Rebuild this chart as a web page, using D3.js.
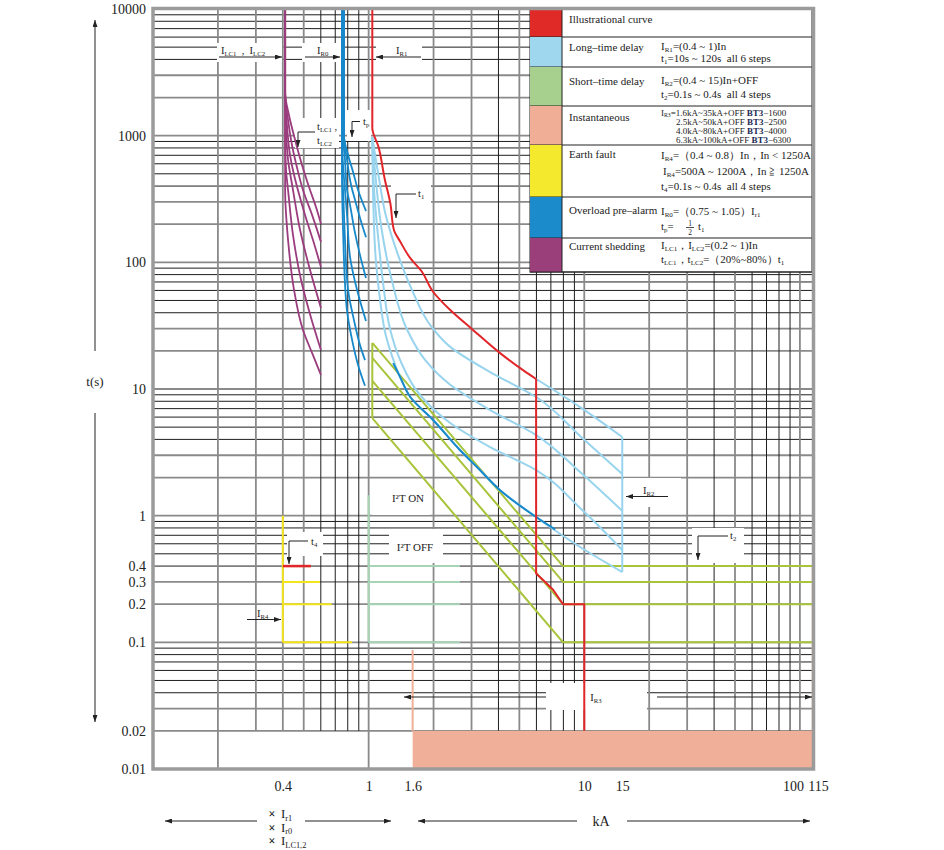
<!DOCTYPE html>
<html>
<head>
<meta charset="utf-8">
<script src="https://cdn.jsdelivr.net/npm/d3@7"></script>
<style>
  body { margin: 0; background: #fff; }
  text { font-family: "Liberation Serif", "DejaVu Serif", serif; fill: #222; }
</style>
</head>
<body>
<svg id="chart" width="944" height="850"></svg>
<script>
// ---- data (current in kA, time in s) ----
const yTicks = [0.01, 0.02, 0.1, 0.2, 0.3, 0.4, 1, 10, 100, 1000, 10000];
const yTickLabels = ["0.01", "0.02", "0.1", "0.2", "0.3", "0.4", "1", "10", "100", "1000", "10000"];
const xTicks = [0.4, 1, 1.6, 10, 15, 100, 115];
const xTickLabels = ["0.4", "1", "1.6", "10", "15", "100", "115"];

// illustrational curve (red)
const redCurve = [[1.04, 10000], [1.04, 1150], [1.11, 820], [1.19, 447], [1.26, 294], [1.31, 180], [1.40, 146],
  [1.56, 108], [1.76, 85], [1.99, 58.6], [2.39, 42], [3.01, 29.8], [4.07, 19.2], [5.2, 14.1], [5.98, 12.0],
  [5.98, 0.35], [6.44, 0.31], [7.17, 0.26], [7.97, 0.2], [10, 0.2], [10, 0.02]];
const redEarth = [[0.4, 0.4], [0.54, 0.4]];

// long-time delay (light blue)
const longTime = [
  [[5.98, 12.0], [9.56, 7.2], [15, 4.18]],
  [[1.04, 975], [1.11, 489], [1.20, 236], [1.37, 114], [1.59, 60.4], [1.93, 32.0], [2.39, 21.5], [3.66, 13.6], [5.98, 8.65], [9.56, 4.26], [15, 2.13]],
  [[1.04, 975], [1.08, 447], [1.15, 180], [1.28, 72.5], [1.51, 29.2], [1.83, 16.9], [2.39, 10.8], [3.66, 6.82], [5.98, 4.33], [9.56, 2.21], [15, 1.09]],
  [[1.04, 975], [1.06, 372], [1.11, 150], [1.17, 66.2], [1.26, 29.2], [1.40, 16.9], [1.73, 8.97], [2.39, 5.39], [3.66, 3.48], [5.98, 2.29], [9.56, 1.15], [15, 0.536]],
  [[1.04, 975], [1.05, 310], [1.08, 104], [1.13, 50.4], [1.20, 26.7], [1.28, 18.5], [1.40, 12.4], [1.56, 8.65], [1.99, 5.69], [2.65, 3.30], [3.18, 2.42], [4.07, 1.59], [5.98, 0.976], [6.94, 0.814], [9.56, 0.566], [15, 0.359]]
];
const longTimeEdge = [[15, 4.18], [15, 0.359]];

// overload pre-alarm (dark blue)
const preAlarm = [
  [[0.769, 10000], [0.769, 994], [0.803, 703], [0.847, 517], [0.893, 372], [0.972, 254]],
  [[0.769, 10000], [0.769, 994], [0.794, 643], [0.829, 408], [0.865, 310], [0.912, 224], [0.972, 158]],
  [[0.761, 10000], [0.761, 994], [0.777, 643], [0.794, 372], [0.820, 283], [0.865, 170], [0.912, 114], [0.972, 75.2]],
  [[0.753, 10000], [0.753, 994], [0.761, 587], [0.777, 372], [0.794, 236], [0.820, 110], [0.884, 60.4], [0.972, 34.4]],
  [[0.753, 10000], [0.753, 994], [0.753, 536], [0.761, 372], [0.777, 150], [0.803, 60.4], [0.855, 35.0], [0.912, 22.2], [0.962, 16.9]],
  [[0.753, 10000], [0.753, 994], [0.753, 447], [0.761, 180], [0.79, 44.7], [0.838, 24.4], [0.893, 15.5], [0.962, 10.6]]
];
const preAlarmLong = [[1.30, 16.0], [1.40, 12.4], [1.56, 8.65], [1.99, 5.69], [2.65, 3.30], [3.18, 2.42], [4.07, 1.59], [5.98, 0.976], [7.32, 0.78]];

// current shedding (purple)
const shedding = [
  [[0.41, 10000], [0.41, 2173], [0.427, 1456], [0.456, 924], [0.491, 587], [0.535, 372], [0.570, 273], [0.601, 201]],
  [[0.41, 10000], [0.41, 2173], [0.423, 1330], [0.441, 844], [0.466, 555], [0.496, 372], [0.547, 236], [0.601, 145]],
  [[0.41, 10000], [0.41, 2173], [0.418, 1214], [0.432, 703], [0.451, 489], [0.470, 372], [0.507, 236], [0.552, 150], [0.601, 91.8]],
  [[0.41, 10000], [0.41, 2173], [0.414, 1109], [0.423, 643], [0.446, 372], [0.481, 180], [0.535, 86.9], [0.601, 43.6]],
  [[0.41, 10000], [0.41, 2173], [0.41, 924], [0.414, 536], [0.423, 372], [0.446, 164], [0.486, 72.5], [0.541, 36.4], [0.601, 20.3]],
  [[0.41, 10000], [0.41, 2173], [0.41, 771], [0.41, 372], [0.423, 150], [0.451, 60.4], [0.496, 29.2], [0.552, 18.5], [0.601, 12.9]]
];

// short-time delay (yellow green)
const shortTime = [
  [[1.04, 23.1], [7.97, 0.4], [115, 0.4]],
  [[1.04, 17.6], [7.97, 0.3], [115, 0.3]],
  [[1.04, 11.6], [7.97, 0.2], [115, 0.2]],
  [[1.04, 5.9], [7.97, 0.1], [115, 0.1]]
];
const shortTimeEdge = [[1.04, 23.1], [1.04, 5.9]];

// I2T OFF (pale green)
const i2tOffEdge = [[1.0, 1.45], [1.0, 0.1]];
const i2tOffTimes = [0.4, 0.3, 0.2, 0.1];
const i2tOffEnd = 2.65;

// earth fault (yellow)
const earthEdge = [[0.4, 1.0], [0.4, 0.1]];
const earthTimes = [0.4, 0.3, 0.2, 0.1];
const earthEnds = [0.54, 0.595, 0.674, 0.838];

// instantaneous (salmon)
const instFrom = 1.6, instTo = 115, instTimes = [0.01, 0.02];
const instEdge = [[1.6, 0.087], [1.6, 0.02]];
const instRight = [[115, 0.4], [115, 0.01]];

// legend
const legendColors = ["#e02a27", "#9fd7ef", "#a7d08f", "#f0ae96", "#f5e92e", "#1b8bcb", "#9b3f7b"];
const legendNames = ["Illustrational curve", "Long\u2013time delay", "Short\u2013time delay", "Instantaneous",
  "Earth fault", "Overload pre\u2013alarm", "Current shedding"];
const legendDetails = [
  [],
  ["I_{R1}=(0.4 ~ 1)In", "t_{1}=10s ~ 120s\u00a0 all 6 steps"],
  ["I_{R2}=(0.4 ~ 15)In+OFF", "t_{2}=0.1s ~ 0.4s\u00a0 all 4 steps"],
  ["I_{R3}=1.6kA~35kA+OFF *{BT3}\u22121600", "2.5kA~50kA+OFF *{BT3}\u22122500", "4.0kA~80kA+OFF *{BT3}\u22124000", "6.3kA~100kA+OFF *{BT3}\u22126300"],
  ["I_{R4}=\uff080.4 ~ 0.8\uff09In\uff0cIn < 1250A", "I_{R4}=500A ~ 1200A\uff0cIn \u2267 1250A", "t_{4}=0.1s ~ 0.4s\u00a0 all 4 steps"],
  ["I_{R0}=\uff080.75 ~ 1.05\uff09I_{r1}", ""],
  ["I_{LC1}\uff0cI_{LC2}=(0.2 ~ 1)In", "t_{LC1}\uff0ct_{LC2}=\uff0820%~80%\uff09t_{1}"]
];

// ---- colours ----
const C = {
  red: "#e1262a", lblue: "#98d4ee", dblue: "#1788c9", purple: "#9a3c7e",
  green: "#a8c43a", pale: "#a6d5b5", yellow: "#f4e41c", salmon: "#f0af98"
};

const svg = d3.select("#chart");
svg.append("rect").attr("width", 944).attr("height", 850).attr("fill", "#fff");

const x = d3.scaleLog().domain([0.1, 115]).range([153, 813]);
const y = d3.scaleLog().domain([0.01, 10000]).range([769, 9]);

const defs = svg.append("defs");
defs.append("marker").attr("id", "ah").attr("viewBox", "0 0 10 10")
  .attr("refX", 10).attr("refY", 5).attr("markerWidth", 7).attr("markerHeight", 5)
  .attr("markerUnits", "userSpaceOnUse").attr("orient", "auto").attr("preserveAspectRatio", "none")
  .append("path").attr("d", "M0,0L10,5L0,10z").attr("fill", "#222");

function mant(v) {
  const e = Math.floor(Math.log10(v) + 1e-9);
  return Math.round(v / Math.pow(10, e));
}

// grid
const grid = svg.append("g");
const yGrid = y.ticks().filter(v => v > 0.0100001);
const xGrid = x.ticks().filter(v => v > 0.100001 && v < 100.0001);
const grayY = d => [1, 2, 3].includes(mant(d));
const grayX = d => [1, 2, 3, 5].includes(mant(d)) || Math.abs(d - 0.4) < 1e-6;
grid.selectAll("line.h").data(yGrid).join("line")
  .attr("x1", 153).attr("x2", 813)
  .attr("y1", d => y(d)).attr("y2", d => y(d))
  .attr("stroke", d => grayY(d) ? "#8a8a8a" : "#1e1e1e")
  .attr("stroke-width", d => grayY(d) ? 1.8 : 1);
grid.selectAll("line.v").data(xGrid).join("line")
  .attr("x1", d => x(d)).attr("x2", d => x(d))
  .attr("y1", 9).attr("y2", d => (Math.abs(d - 0.2) < 1e-6 || Math.abs(d - 1) < 1e-6) ? 769 : y(0.02))
  .attr("stroke", d => grayX(d) ? "#8a8a8a" : "#1e1e1e")
  .attr("stroke-width", d => grayX(d) ? 1.8 : 1);

// white boxes behind the annotations
const boxes = [[217, 43, 65, 19], [302, 43, 39, 19], [376, 43, 46, 19], [295, 118, 44, 30], [347, 110, 24, 31],
  [391, 185, 40, 36], [372, 479, 58, 36], [389, 529, 54, 34], [287, 532, 36, 24], [624, 478, 57, 29],
  [692, 528, 52, 35], [546, 683, 101, 27]];
svg.append("g").selectAll("rect").data(boxes).join("rect")
  .attr("x", d => d[0]).attr("y", d => d[1]).attr("width", d => d[2]).attr("height", d => d[3])
  .attr("fill", "#fff");

const smooth = d3.line().x(d => x(d[0])).y(d => y(d[1])).curve(d3.curveMonotoneY);
const straight = d3.line().x(d => x(d[0])).y(d => y(d[1]));

function draw(g, pts, color, gen, w) {
  g.append("path").attr("d", gen(pts)).attr("fill", "none").attr("stroke", color)
    .attr("stroke-width", w || 2).attr("stroke-linejoin", "round");
}

const curves = svg.append("g");

// instantaneous
curves.append("rect").attr("x", x(instFrom)).attr("y", y(instTimes[1]))
  .attr("width", x(instTo) - x(instFrom)).attr("height", y(instTimes[0]) - y(instTimes[1]))
  .attr("fill", C.salmon);
draw(curves, instEdge, C.salmon, straight, 2);
draw(curves, instRight, C.salmon, straight, 2.5);

// I2T OFF
draw(curves, i2tOffEdge, C.pale, straight, 2);
i2tOffTimes.forEach(t => draw(curves, [[1.0, t], [i2tOffEnd, t]], C.pale, straight, 2));

// earth fault
draw(curves, earthEdge, C.yellow, straight, 2);
earthTimes.forEach((t, i) => draw(curves, [[0.4, t], [earthEnds[i], t]], C.yellow, straight, 2));

// short-time
shortTime.forEach(c => draw(curves, c, C.green, straight, 2));
draw(curves, shortTimeEdge, C.green, straight, 2);

// long-time
longTime.forEach(c => draw(curves, c, C.lblue, smooth, 2));
draw(curves, longTimeEdge, C.lblue, straight, 2);

// current shedding
shedding.forEach(c => draw(curves, c, C.purple, smooth, 1.8));

// pre-alarm
preAlarm.forEach(c => draw(curves, c, C.dblue, smooth, 1.8));
draw(curves, preAlarmLong, C.dblue, smooth, 2);

// illustrational
draw(curves, redCurve.slice(0, 15), C.red, smooth, 2);
draw(curves, redCurve.slice(14), C.red, straight, 2);
draw(curves, redEarth, C.red, straight, 2.5);

// legend
const lg = svg.append("g");
const rowY = [9, 37, 67, 106, 145, 197, 238, 272];
lg.append("rect").attr("x", 530).attr("y", 9).attr("width", 282).attr("height", 263)
  .attr("fill", "#fff").attr("stroke", "#222").attr("stroke-width", 1);
legendColors.forEach((c, i) => {
  lg.append("rect").attr("x", 530).attr("y", rowY[i]).attr("width", 32).attr("height", rowY[i + 1] - rowY[i])
    .attr("fill", c);
  lg.append("line").attr("x1", 530).attr("x2", 812).attr("y1", rowY[i + 1]).attr("y2", rowY[i + 1])
    .attr("stroke", "#222").attr("stroke-width", 1);
});
lg.append("line").attr("x1", 562).attr("x2", 562).attr("y1", 9).attr("y2", 272).attr("stroke", "#222");

function rich(sel, str, size) {
  let shift = 0;
  str.split(/(_\{[^}]*\}|\*\{[^}]*\})/).filter(Boolean).forEach(tok => {
    let t = tok, fs = size, target = 0, bold = false;
    if (tok.startsWith("_{")) { t = tok.slice(2, -1); fs = size * 0.64; target = size * 0.2; }
    else if (tok.startsWith("*{")) { t = tok.slice(2, -1); bold = true; }
    const sp = sel.append("tspan").text(t).attr("font-size", fs).attr("dy", target - shift);
    if (bold) sp.attr("font-weight", "bold").attr("fill", "#1c2a55");
    shift = target;
  });
  return sel;
}
function note(g, px, py, str, size, anchor) {
  const t = g.append("text").attr("x", px).attr("y", py).attr("font-size", size)
    .attr("text-anchor", anchor || "start");
  return rich(t, str, size);
}

const nameY = [23, 51, 85, 121, 158, 214, 250];
legendNames.forEach((n, i) => note(lg, 569, nameY[i], n, 11));
const detailY = [[], [49.5, 62], [84, 97.5], [115.5, 124.5, 133.5, 142.5], [159, 174.5, 190], [215, 230], [249, 262.5]];
legendDetails.forEach((lines, i) => {
  lines.forEach((s, j) => {
    if (!s) return;
    const small = i === 3;
    const px = small && j > 0 ? 676 : (i === 4 && j === 1 ? 663 : 661);
    note(lg, px, detailY[i][j], s, small ? 9 : 11);
  });
});
// tp = 1/2 t1
note(lg, 661, 230, "t_{p}=", 11);
lg.append("text").attr("x", 690).attr("y", 225.5).attr("font-size", 7.5).attr("text-anchor", "middle").text("1");
lg.append("line").attr("x1", 686).attr("x2", 694).attr("y1", 227.5).attr("y2", 227.5).attr("stroke", "#222").attr("stroke-width", 0.8);
lg.append("text").attr("x", 690).attr("y", 234.5).attr("font-size", 7.5).attr("text-anchor", "middle").text("2");
note(lg, 698, 230, "t_{1}", 11);

// plot border
svg.append("rect").attr("x", 153).attr("y", 8.5).attr("width", 660.5).attr("height", 760.5)
  .attr("fill", "none").attr("stroke", "#9b9b9b").attr("stroke-width", 3.5);

// annotations
const ann = svg.append("g");
function arrow(pts) {
  ann.append("path").attr("d", d3.line()(pts)).attr("fill", "none").attr("stroke", "#222")
    .attr("stroke-width", 1).attr("marker-end", "url(#ah)");
}
note(ann, 221, 54, "I_{LC1}\u00a0 ,\u00a0 I_{LC2}", 10.5);
arrow([[219, 57], [282, 57]]);
note(ann, 317, 54, "I_{R0}", 10.5);
arrow([[305, 57], [340, 57]]);
note(ann, 396, 54, "I_{R1}", 10.5);
arrow([[421, 57], [376, 57]]);
note(ann, 317, 130, "t_{LC1} ,", 10.5);
note(ann, 317, 143.5, "t_{LC2}", 10.5);
arrow([[315, 132], [298, 132], [298, 147]]);
note(ann, 363, 125, "t_{p}", 10.5);
arrow([[360, 121.5], [352, 121.5], [352, 137]]);
note(ann, 418, 197, "t_{1}", 10.5);
arrow([[416, 194], [396, 194], [396, 218]]);
note(ann, 408, 502, "I\u00b2T ON", 11, "middle");
note(ann, 415, 551, "I\u00b2T OFF", 11, "middle");
note(ann, 311, 545, "t_{4}", 10.5);
arrow([[308, 541], [289, 541], [289, 564]]);
note(ann, 257, 617, "I_{R4}", 10.5);
arrow([[247, 619.5], [281, 619.5]]);
note(ann, 643, 494, "I_{R2}", 10.5);
arrow([[668, 496.5], [626, 496.5]]);
note(ann, 730, 539, "t_{2}", 10.5);
arrow([[728, 536], [698, 536], [698, 560]]);
note(ann, 596, 701, "I_{R3}", 10.5, "middle");
arrow([[546, 697], [404, 697]]);
arrow([[657, 697], [812, 697]]);

// axes
const yAxis = svg.append("g").attr("transform", "translate(153,0)")
  .call(d3.axisLeft(y).tickValues(yTicks).tickFormat((d, i) => yTickLabels[i]).tickSize(0).tickPadding(7));
const xAxis = svg.append("g").attr("transform", "translate(0,769)")
  .call(d3.axisBottom(x).tickValues(xTicks).tickFormat((d, i) => xTickLabels[i]).tickSize(0).tickPadding(12));
[yAxis, xAxis].forEach(a => {
  a.select(".domain").remove();
  a.selectAll("text").attr("font-size", 14).attr("font-family", "Liberation Serif, serif").attr("fill", "#222");
});
xAxis.selectAll("text").attr("dx", (d) => d === 100 ? -7 : d === 115 ? 5 : 0);

// axis titles
note(svg, 95, 386, "t(s)", 13, "middle");
arrow([[95, 351], [95, 20]]);
arrow([[95, 413], [95, 722]]);
note(svg, 601, 826, "kA", 14, "middle");
arrow([[577, 821], [418, 821]]);
arrow([[627, 821], [810, 821]]);
arrow([[257, 821], [165, 821]]);
arrow([[305, 821], [391, 821]]);
["I_{r1}", "I_{r0}", "I_{LC1,2}"].forEach((s, i) => {
  svg.append("text").attr("x", 272).attr("y", 818 + i * 13.5).attr("font-size", 12).attr("font-weight", "bold")
    .attr("text-anchor", "middle").attr("font-family", "DejaVu Sans, sans-serif").text("\u00d7");
  note(svg, 281, 818 + i * 13.5, s, 13);
});
</script>
</body>
</html>
